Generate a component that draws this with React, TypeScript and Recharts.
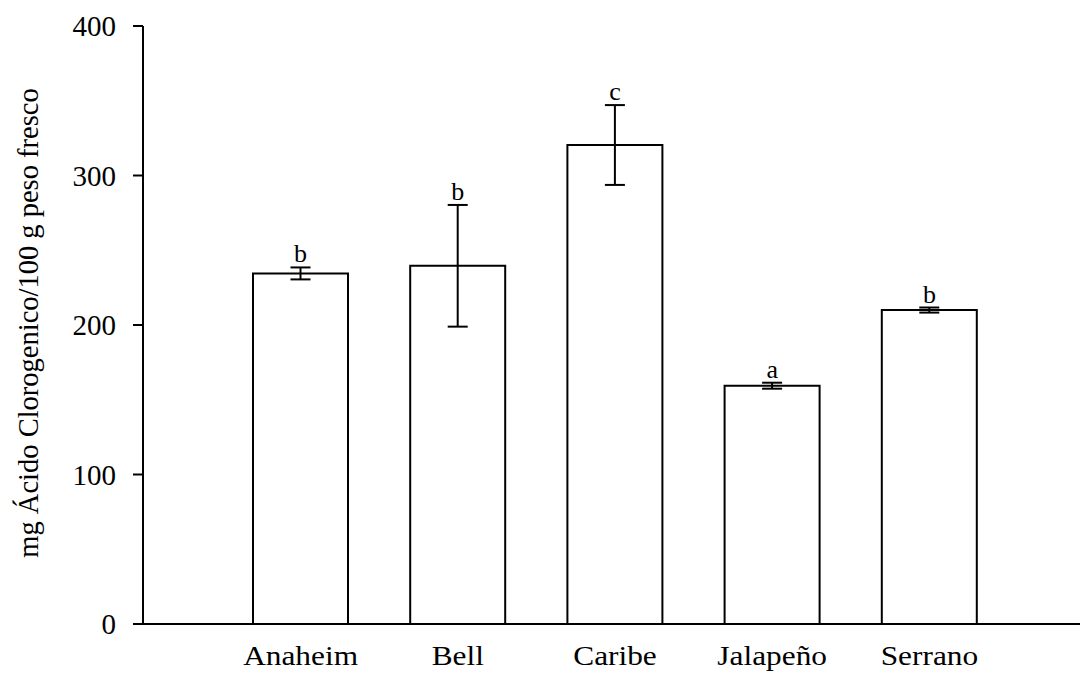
import React from 'react';
import { ComposedChart, Bar, Line, XAxis, YAxis, ErrorBar, LabelList } from 'recharts';

// values
const cultivars = ['Anaheim', 'Bell', 'Caribe', 'Jalapeño', 'Serrano'];
const means = [234.5, 239.6, 320.4, 159.4, 210];
const errors = [4, 40.7, 26.7, 2, 1.7];
const letters = ['b', 'b', 'c', 'a', 'b'];
const yTicks = [0, 100, 200, 300, 400];

const data = cultivars.map((name, i) => ({
  name,
  mean: means[i],
  err: errors[i],
  top: means[i] + errors[i],
  letter: letters[i],
}));

const font = '"Liberation Serif", "Times New Roman", serif';

const AxisTitle = () => (
  <text
    x={38}
    y={323}
    transform="rotate(-90, 38, 323)"
    textAnchor="middle"
    fontFamily={font}
    fontSize={28.5}
    fill="#000"
  >
    mg Ácido Clorogenico/100 g peso fresco
  </text>
);

// the category labels look slightly wider than tall in the original
const CategoryTick = (props: any) => {
  const { x, y, payload } = props;
  return (
    <g transform={`translate(${x},${y}) scale(1.12,1)`}>
      <text x={0} y={0} dy="0.71em" textAnchor="middle" fontFamily={font} fontSize={28} fill="#000">
        {payload.value}
      </text>
    </g>
  );
};

export default function App() {
  return (
    <div style={{ position: 'absolute', left: 0, top: 0, width: 1081, height: 673, background: '#fff' }}>
      <ComposedChart width={1081} height={673} data={data} margin={{ top: 26, right: 1, bottom: 0, left: 0 }}>
        <XAxis
          dataKey="name"
          height={49}
          padding={{ left: 79, right: 72 }}
          tickLine={false}
          tickMargin={15}
          axisLine={{ stroke: '#000', strokeWidth: 2 }}
          tick={<CategoryTick />}
          interval={0}
        />
        <YAxis
          width={143}
          domain={[0, 400]}
          ticks={yTicks}
          tickSize={10}
          tickMargin={17}
          axisLine={{ stroke: '#000', strokeWidth: 2 }}
          tickLine={{ stroke: '#000', strokeWidth: 2 }}
          tick={{ fill: '#000', fontFamily: font, fontSize: 29 }}
          label={{ content: () => <AxisTitle /> }}
        />
        <Bar dataKey="mean" barSize={95} fill="#fff" stroke="#000" strokeWidth={2} isAnimationActive={false}>
          <ErrorBar dataKey="err" width={10} stroke="#000" strokeWidth={2} direction="y" />
        </Bar>
        <Line dataKey="top" stroke="none" dot={false} activeDot={false} isAnimationActive={false}>
          <LabelList dataKey="letter" position="top" offset={5} fill="#000" fontFamily={font} fontSize={26} />
        </Line>
      </ComposedChart>
    </div>
  );
}
